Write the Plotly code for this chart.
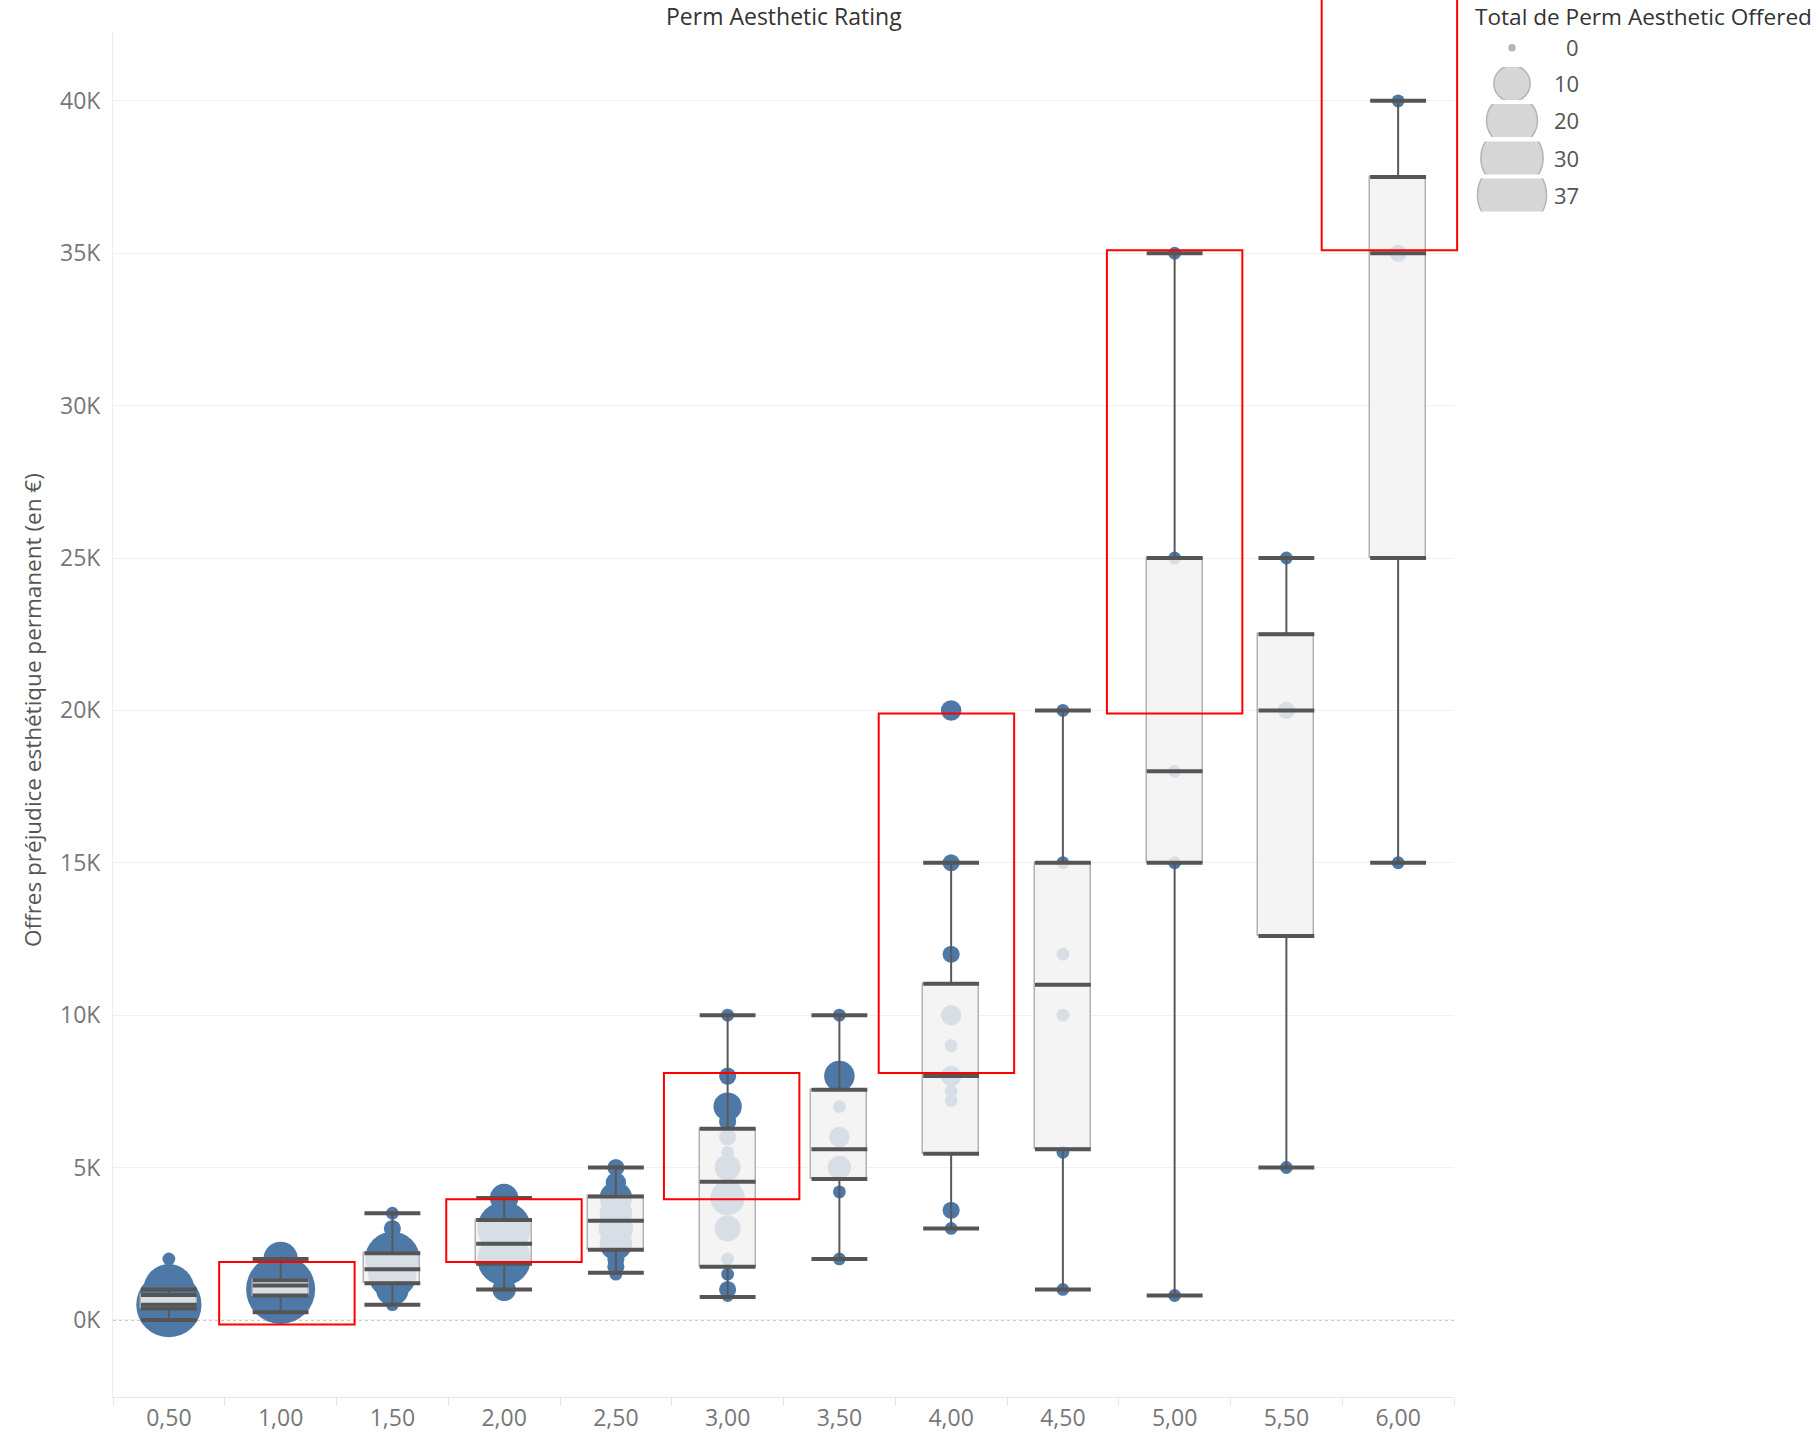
import math
import plotly.graph_objects as go

# ---------------- data ----------------
ratings = [0.5, 1.0, 1.5, 2.0, 2.5, 3.0, 3.5, 4.0, 4.5, 5.0, 5.5, 6.0]
rating_labels = ["0,50", "1,00", "1,50", "2,00", "2,50", "3,00",
                 "3,50", "4,00", "4,50", "5,00", "5,50", "6,00"]

box_lower = [0, 250, 500, 1000, 1550, 750, 2000, 3000, 1000, 800, 5000, 15000]
box_q1 = [375, 800, 1200, 1840, 2300, 1740, 4620, 5450, 5600, 15000, 12600, 25000]
box_median = [500, 1125, 1660, 2500, 3250, 4530, 5600, 8000, 11000, 18000, 20000, 35000]
box_q3 = [820, 1300, 2190, 3280, 4050, 6270, 7550, 11030, 15000, 25000, 22500, 37500]
box_upper = [1000, 2000, 3500, 4000, 5000, 10000, 10000, 15000, 20000, 35000, 25000, 40000]

pt_rating = [0.5, 0.5, 0.5, 0.5,
             1.0, 1.0, 1.0, 1.0, 1.0,
             1.5, 1.5, 1.5, 1.5, 1.5, 1.5, 1.5,
             2.0, 2.0, 2.0, 2.0, 2.0, 2.0, 2.0,
             2.5, 2.5, 2.5, 2.5, 2.5, 2.5, 2.5, 2.5, 2.5,
             3.0, 3.0, 3.0, 3.0, 3.0, 3.0, 3.0, 3.0, 3.0, 3.0, 3.0, 3.0, 3.0,
             3.5, 3.5, 3.5, 3.5, 3.5, 3.5, 3.5,
             4.0, 4.0, 4.0, 4.0, 4.0, 4.0, 4.0, 4.0, 4.0, 4.0,
             4.5, 4.5, 4.5, 4.5, 4.5, 4.5,
             5.0, 5.0, 5.0, 5.0, 5.0,
             5.5, 5.5, 5.5,
             6.0, 6.0, 6.0]
pt_offer = [0, 500, 1000, 2000,
            250, 500, 1000, 1500, 2000,
            500, 1000, 1500, 2000, 2500, 3000, 3500,
            1000, 1500, 2000, 2500, 3000, 3500, 4000,
            1500, 1750, 2000, 2500, 3000, 3500, 4000, 4500, 5000,
            800, 1000, 1500, 2000, 3000, 4000, 5000, 5500, 6000, 6500, 7000, 8000, 10000,
            2000, 4200, 5000, 6000, 7000, 8000, 10000,
            3000, 3600, 7200, 7500, 8000, 9000, 10000, 12000, 15000, 20000,
            1000, 5500, 10000, 12000, 15000, 20000,
            800, 15000, 18000, 25000, 35000,
            5000, 20000, 25000,
            15000, 35000, 40000]
pt_count = [6, 33, 20, 1,
            1, 5, 37, 8, 9,
            1, 8, 18, 23, 4, 2, 1,
            4, 3, 22, 15, 22, 4, 6,
            1, 2, 2, 8, 9, 8, 8, 3, 2,
            1, 2, 1, 1, 5, 9, 5, 1, 2, 2, 6, 2, 1,
            1, 1, 4, 3, 1, 7, 1,
            1, 2, 1, 1, 3, 1, 3, 2, 2, 3,
            1, 1, 1, 1, 1, 1,
            1, 1, 1, 1, 1,
            1, 2, 1,
            1, 2, 1]

legend_counts = [0, 10, 20, 30, 37]

highlight_rating = [1.0, 2.0, 3.0, 4.0, 5.0, 6.0]
highlight_low = [-150, 1900, 3960, 8100, 19900, 35100]
highlight_high = [1900, 3960, 8100, 19900, 35100, 43800]

y_tick_values = [0, 5000, 10000, 15000, 20000, 25000, 30000, 35000, 40000]
y_tick_labels = ["0K", "5K", "10K", "15K", "20K", "25K", "30K", "35K", "40K"]

# ---------------- styling / geometry ----------------
W, H = 1819, 1440
ML, MT, MB = 113, 32, 43
PW = 1686
MR = W - ML - PW
PH = H - MT - MB
XD = 1341 / PW          # main plot width fraction


def px_x(page_px):
    return (page_px - ML) / PW


def px_y(page_py):
    return (MT + PH - page_py) / PH


X_RANGE = [0.25, 6.25]
Y_RANGE = [-2530, 42260]
BOX_W = 0.25
HL_HALF = 0.303
# hand-drawn highlight frames are not perfectly centred on their category
HL_NUDGE = [0.028, 0.044, 0.018, -0.021, 0.0, -0.039]

FONT = "Open Sans"
BLUE = "#4e79a7"
TITLE_Y = 16


def diam(n):
    return math.sqrt(36 + 128 * n)


def xdom(v):
    return (v - X_RANGE[0]) / (X_RANGE[1] - X_RANGE[0])


def ydom(v):
    return (v - Y_RANGE[0]) / (Y_RANGE[1] - Y_RANGE[0])


fig = go.Figure()

# circles (base subplot)
fig.add_trace(go.Scatter(
    x=pt_rating, y=pt_offer, mode="markers",
    marker=dict(size=[diam(n) for n in pt_count], sizemode="diameter",
                color=BLUE, line=dict(width=0), opacity=1),
    xaxis="x", yaxis="y", hoverinfo="skip", showlegend=False))

# boxes (overlay subplot, drawn above the circles)
fig.add_trace(go.Bar(
    x=ratings, y=[q3 - q1 for q1, q3 in zip(box_q1, box_q3)], base=box_q1,
    width=BOX_W,
    marker=dict(color="rgba(242,242,242,0.84)",
                line=dict(color="#b2b2b2", width=1.5)),
    xaxis="x2", yaxis="y2", hoverinfo="skip", showlegend=False))

wx, wy = [], []
for r, lo, q1, q3, up in zip(ratings, box_lower, box_q1, box_q3, box_upper):
    wx += [r, r, None, r, r, None]
    wy += [q3, up, None, q1, lo, None]
fig.add_trace(go.Scatter(
    x=wx, y=wy, mode="lines", line=dict(color="#595959", width=2),
    xaxis="x2", yaxis="y2", hoverinfo="skip", showlegend=False))

tx, ty = [], []
for r, vals in zip(ratings, zip(box_lower, box_q1, box_median, box_q3, box_upper)):
    for v in vals:
        tx += [r - BOX_W / 2, r + BOX_W / 2, None]
        ty += [v, v, None]
fig.add_trace(go.Scatter(
    x=tx, y=ty, mode="lines", line=dict(color="#555555", width=4),
    xaxis="x2", yaxis="y2", hoverinfo="skip", showlegend=False))

# size legend: one small clipped cell per row
row_centers = [47, 83.5, 120.5, 158, 195]
CELL = 33
legend_axes = {}
for i, (n, yc) in enumerate(zip(legend_counts, row_centers)):
    k = i + 3
    fig.add_trace(go.Scatter(
        x=[0], y=[0], mode="markers",
        marker=dict(size=diam(n), sizemode="diameter",
                    color="#d6d6d6" if n > 0 else "#b8b8b8",
                    line=dict(color="#b4b4b4", width=1.5)),
        xaxis=f"x{k}", yaxis=f"y{k}", hoverinfo="skip", showlegend=False,
        cliponaxis=True))
    legend_axes[f"xaxis{k}"] = dict(domain=[px_x(1476), px_x(1548)], range=[-1, 1],
                                    visible=False, anchor=f"y{k}", fixedrange=True,
                                    automargin=False)
    legend_axes[f"yaxis{k}"] = dict(domain=[px_y(yc + CELL / 2), min(1.0, px_y(yc - CELL / 2))],
                                    range=[-1, 1], visible=False, anchor=f"x{k}",
                                    fixedrange=True, automargin=False)

annotations = []
for n, yc in zip(legend_counts, row_centers):
    annotations.append(dict(
        x=px_x(1581), y=px_y(yc), xref="paper", yref="paper",
        text=str(n), showarrow=False, xanchor="right", yanchor="middle",
        font=dict(family=FONT, size=22, color="#555555")))

annotations.append(dict(
    x=px_x(1473), y=px_y(TITLE_Y), xref="paper", yref="paper",
    text="Total de Perm Aesthetic Offered", showarrow=False,
    xanchor="left", yanchor="middle",
    font=dict(family=FONT, size=22.6, color="#333333")))
annotations.append(dict(
    x=XD / 2, y=px_y(TITLE_Y), xref="paper", yref="paper",
    text="Perm Aesthetic Rating", showarrow=False,
    xanchor="center", yanchor="middle",
    font=dict(family=FONT, size=23, color="#333333")))
annotations.append(dict(
    x=px_x(32), y=px_y(710), xref="paper", yref="paper",
    text="Offres préjudice esthétique permanent (en €)", showarrow=False,
    textangle=-90, xanchor="center", yanchor="middle",
    font=dict(family=FONT, size=22.5, color="#555555")))

shapes = [dict(type="line", xref="x domain", yref="y", x0=0, x1=1, y0=0, y1=0,
               line=dict(color="#b8b8b8", width=1.5, dash="dot"), layer="below")]
for r, lo, hi, nd in zip(highlight_rating, highlight_low, highlight_high, HL_NUDGE):
    shapes.append(dict(
        type="rect", xref="x domain", yref="y domain",
        x0=xdom(r + nd - HL_HALF), x1=xdom(r + nd + HL_HALF), y0=ydom(lo), y1=ydom(hi),
        line=dict(color="#ff0000", width=2), fillcolor="rgba(0,0,0,0)",
        layer="above"))

boundaries = [r - 0.25 for r in ratings] + [ratings[-1] + 0.25]

fig.update_layout(
    width=W, height=H, autosize=False,
    margin=dict(l=ML, r=MR, t=MT, b=MB, pad=0, autoexpand=False),
    paper_bgcolor="white", plot_bgcolor="white",
    font=dict(family=FONT, color="#777777"),
    showlegend=False, bargap=0,
    xaxis=dict(domain=[0, XD], range=X_RANGE, tickmode="array",
               tickvals=ratings, ticktext=rating_labels, ticks="",
               showgrid=False, zeroline=False, showline=True,
               linecolor="#e6e6e6", linewidth=1, automargin=False,
               tickfont=dict(family=FONT, size=23, color="#777777"),
               ticklabelstandoff=0,
               minor=dict(tickmode="array", tickvals=boundaries, ticks="outside",
                          ticklen=8, tickwidth=1, tickcolor="#e6e6e6",
                          showgrid=False),
               fixedrange=True),
    yaxis=dict(range=Y_RANGE, tickmode="array", tickvals=y_tick_values,
               ticktext=y_tick_labels, ticks="", showgrid=True,
               gridcolor="#f0f0f0", gridwidth=1, zeroline=False,
               showline=True, linecolor="#ededed", linewidth=1, automargin=False,
               tickfont=dict(family=FONT, size=23, color="#777777"),
               ticklabelstandoff=7, fixedrange=True),
    xaxis2=dict(overlaying="x", range=X_RANGE, visible=False, fixedrange=True,
                automargin=False),
    yaxis2=dict(overlaying="y", range=Y_RANGE, visible=False, fixedrange=True,
                automargin=False),
    annotations=annotations,
    shapes=shapes,
    **legend_axes,
)

# remove the browser's default 8px page margin so the figure sits at the page origin
fig.write_html("out.html", config={"displayModeBar": False},
               post_script="document.body.style.margin='0px';")
